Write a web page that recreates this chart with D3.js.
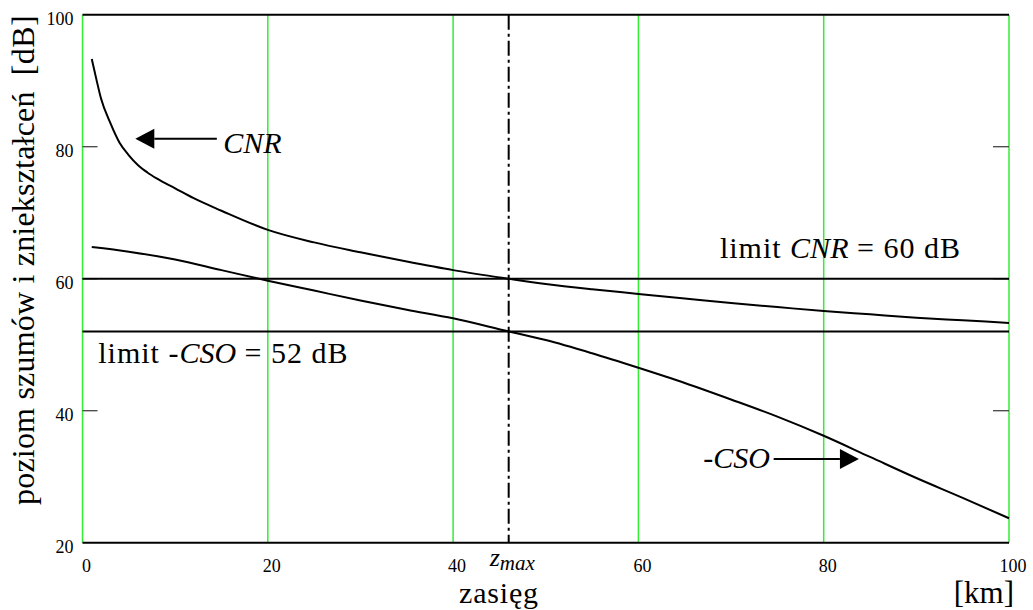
<!DOCTYPE html>
<html><head><meta charset="utf-8">
<script src="https://cdn.jsdelivr.net/npm/d3@7"></script>
</head><body style="margin:0"><svg id="c" width="1033" height="610" style="display:block"></svg>
<script>
const xTicks = [0, 20, 40, 60, 80, 100];
const yTicks = [20, 40, 60, 80, 100];
const cnrX = [1, 1.5, 2, 3, 4, 5, 6, 7, 8, 10, 12, 15, 20, 25, 30, 35, 40, 46, 50, 55, 60, 65, 70, 75, 80, 85, 90, 95, 100];
const cnrY = [93.3, 90.2, 87.3, 83.6, 80.6, 78.7, 77.2, 76.1, 75.2, 73.7, 72.2, 70.3, 67.4, 65.5, 64.0, 62.6, 61.3, 60.0, 59.2, 58.4, 57.7, 57.0, 56.3, 55.7, 55.1, 54.6, 54.1, 53.7, 53.3];
const csoX = [1, 5, 10, 15, 20, 25, 30, 35, 40, 46, 50, 55, 60, 65, 70, 75, 80, 85, 90, 95, 100];
const csoY = [64.8, 64.1, 62.9, 61.3, 59.7, 58.2, 56.7, 55.3, 54.0, 52.0, 50.7, 48.7, 46.5, 44.2, 41.7, 39.1, 36.2, 33.0, 29.8, 26.8, 23.7];
const limitCNR = 60, limitCSO = 52, zmax = 46;

const FONT = "Liberation Serif";
const svg = d3.select("#c");
const L = 82.5, R = 1009, T = 14.7, B = 542.7;
const x = d3.scaleLinear().domain([0, 100]).range([L, R]);
const y = d3.scaleLinear().domain([20, 100]).range([B, T]);
const green = "#33ee33";
const txt = (sel) => sel.append("text").attr("font-family", FONT).style("font-family", FONT).attr("fill", "#000");

svg.append("g").selectAll("line").data(xTicks).join("line")
  .attr("x1", d => x(d)).attr("x2", d => x(d)).attr("y1", T).attr("y2", B)
  .attr("stroke", green).attr("stroke-width", 1.5);
[100, 20].forEach(v => svg.append("line").attr("x1", L).attr("x2", R).attr("y1", y(v)).attr("y2", y(v)).attr("stroke", "#000").attr("stroke-width", 2));
yTicks.filter(d => d > 20 && d < 100).forEach(d => {
  svg.append("line").attr("x1", L).attr("x2", L + 15).attr("y1", y(d)).attr("y2", y(d)).attr("stroke", "#444").attr("stroke-width", 1.3);
  svg.append("line").attr("x1", R - 16).attr("x2", R).attr("y1", y(d)).attr("y2", y(d)).attr("stroke", "#444").attr("stroke-width", 1.3);
});
yTicks.forEach(d => txt(svg).attr("x", L - 9).attr("y", y(d) + 10).attr("text-anchor", "end").attr("font-size", 18).text(d));
xTicks.forEach(d => txt(svg).attr("x", x(d) + 4).attr("y", 571.5).attr("text-anchor", "middle").attr("font-size", 18).text(d));

[limitCNR, limitCSO].forEach(v => svg.append("line").attr("x1", L).attr("x2", R).attr("y1", y(v)).attr("y2", y(v)).attr("stroke", "#000").attr("stroke-width", 2));
svg.append("line").attr("x1", x(zmax)).attr("x2", x(zmax)).attr("y1", T).attr("y2", B)
  .attr("stroke", "#000").attr("stroke-width", 2).attr("stroke-dasharray", "15,4,3,4");

const line = d3.line().x(d => x(d[0])).y(d => y(d[1])).curve(d3.curveMonotoneX);
svg.append("path").attr("d", line(cnrX.map((v, i) => [v, cnrY[i]]))).attr("fill", "none").attr("stroke", "#000").attr("stroke-width", 2);
svg.append("path").attr("d", line(csoX.map((v, i) => [v, csoY[i]]))).attr("fill", "none").attr("stroke", "#000").attr("stroke-width", 2);

function arrow(x0, x1, yv) {
  const px0 = x(x0), px1 = x(x1), py = y(yv);
  const dir = Math.sign(px1 - px0);
  const hb = px1 - dir * 19;
  svg.append("line").attr("x1", px0).attr("x2", hb).attr("y1", py).attr("y2", py).attr("stroke", "#000").attr("stroke-width", 2);
  svg.append("path").attr("d", `M${px1},${py} L${hb},${py - 10} L${hb},${py + 10} Z`).attr("fill", "#000");
}
arrow(14.5, 5.7, 81.2);
arrow(74.6, 83.8, 32.7);

txt(svg).attr("x", x(15.2)).attr("y", y(79.0)).attr("font-size", 30).attr("font-style", "italic").text("CNR");
const t1 = txt(svg).attr("x", x(68.8)).attr("y", y(63.1)).attr("font-size", 30);
t1.append("tspan").attr("letter-spacing", 1).text("limit ");
t1.append("tspan").attr("font-style", "italic").text("CNR");
t1.append("tspan").attr("letter-spacing", 1).text(" = 60 dB");
const t2 = txt(svg).attr("x", x(1.7)).attr("y", y(47.2)).attr("font-size", 30);
t2.append("tspan").attr("letter-spacing", 1).text("limit -");
t2.append("tspan").attr("font-style", "italic").text("CSO");
t2.append("tspan").attr("letter-spacing", 1).text(" = 52 dB");
txt(svg).attr("x", x(74.2)).attr("y", y(31.3)).attr("text-anchor", "end").attr("font-size", 30).attr("font-style", "italic").text("-CSO");

const z = txt(svg).attr("x", x(zmax) - 19).attr("y", 566).attr("font-style", "italic");
z.append("tspan").attr("font-size", 26).text("z");
z.append("tspan").attr("font-size", 21).attr("dy", 4).text("max");

txt(svg).attr("x", 499).attr("y", 603).attr("text-anchor", "middle").attr("font-size", 30).attr("letter-spacing", 0.8).text("zasięg");
txt(svg).attr("x", 1014).attr("y", 603).attr("text-anchor", "end").attr("font-size", 31).text("[km]");
txt(svg).attr("transform", "translate(34,505) rotate(-90)").attr("font-size", 32).attr("letter-spacing", 0.2).text("poziom szumów i zniekształceń");
txt(svg).attr("transform", "translate(34,15) rotate(-90)").attr("text-anchor", "end").attr("font-size", 32).attr("letter-spacing", 0.4).text("[dB]");
</script></body></html>
